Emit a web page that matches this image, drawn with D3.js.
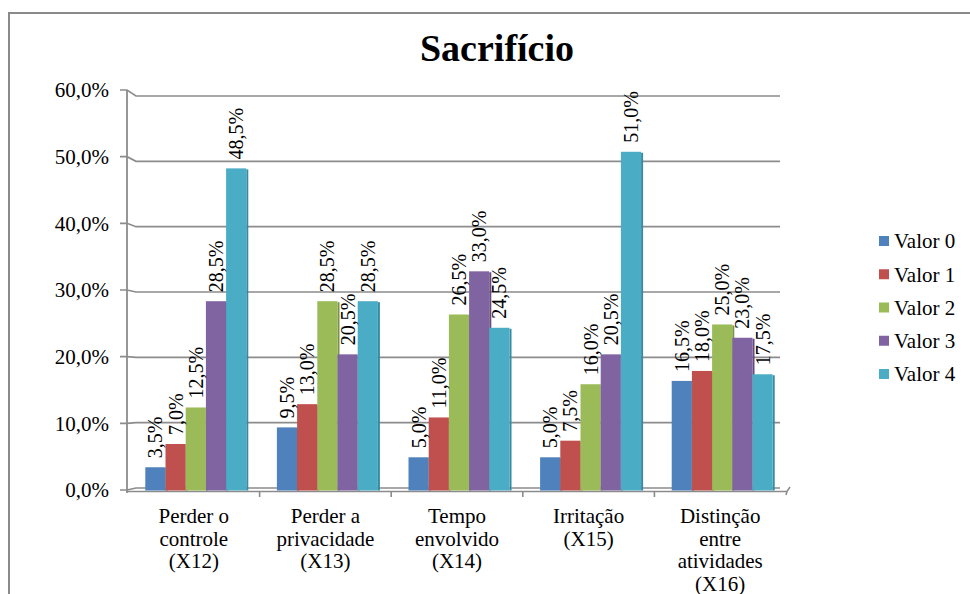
<!DOCTYPE html>
<html>
<head>
<meta charset="utf-8">
<script src="https://cdn.jsdelivr.net/npm/d3@7/dist/d3.min.js"></script>
<style>
  html, body { margin: 0; padding: 0; background: #fff; }
  svg { display: block; }
  svg text { font-family: "Liberation Serif", "DejaVu Serif"; }
</style>
</head>
<body>
<svg id="chart" width="970" height="594"></svg>
<script>
// Chart data
const categories = ["Perder o\ncontrole\n(X12)", "Perder a\nprivacidade\n(X13)", "Tempo\nenvolvido\n(X14)", "Irritação\n(X15)", "Distinção\nentre\natividades\n(X16)"];
const seriesNames = ["Valor 0", "Valor 1", "Valor 2", "Valor 3", "Valor 4"];
const valor0 = [3.5, 9.5, 5.0, 5.0, 16.5];
const valor1 = [7.0, 13.0, 11.0, 7.5, 18.0];
const valor2 = [12.5, 28.5, 26.5, 16.0, 25.0];
const valor3 = [28.5, 20.5, 33.0, 20.5, 23.0];
const valor4 = [48.5, 28.5, 24.5, 51.0, 17.5];
const yTicks = [0, 10, 20, 30, 40, 50, 60];
const seriesColors = ["#4F81BD", "#C0504D", "#9BBB59", "#8064A2", "#4BACC6"];
const sideColors = ["#3b6392", "#963b39", "#789346", "#62497f", "#368aa2"];

const seriesValues = [valor0, valor1, valor2, valor3, valor4];
const fmt = v => d3.format(".1f")(v).replace(".", ",") + "%";

const svg = d3.select("#chart");
const gridColor = "#8c8c8c";

// Outer chart frame (left and top edges visible)
svg.append("path")
  .attr("d", "M9,594 L9,13 L970,13")
  .attr("fill", "none").attr("stroke", "#8a8a8a").attr("stroke-width", 2);

// Title
svg.append("text")
  .attr("x", 497).attr("y", 61)
  .attr("text-anchor", "middle")
  .attr("font-weight", "bold").attr("font-size", 38)
  .attr("fill", "#000")
  .text("Sacrifício");

// Scales: front axis, back wall, bar faces
const x0 = d3.scaleBand().domain(categories).range([128, 786]).paddingInner(0).paddingOuter(0);
const groupPad = 15.3;
const x1 = d3.scaleBand().domain(seriesNames)
  .range([groupPad + 2, x0.bandwidth() - groupPad + 2]).padding(0);
const yFront = d3.scaleLinear().domain([0, 60]).range([490, 90]);
const yBack = d3.scaleLinear().domain([0, 60]).range([488, 96]);
const yBar = d3.scaleLinear().domain([0, 60]).range([490.5, 92]);
const backLeft = 136, backRight = 780, axisX = 127;

// Gridlines on back wall, joined to the front axis ticks
const grid = svg.append("g");
yTicks.forEach(t => {
  grid.append("path")
    .attr("d", `M${axisX - 7},${yFront(t)} L${axisX},${yFront(t)} L${backLeft},${yBack(t)} L${backRight},${yBack(t)}`)
    .attr("fill", "none").attr("stroke", gridColor).attr("stroke-width", 1.6);
});

// Floor front edge
svg.append("path")
  .attr("d", `M${axisX},${yFront(0) + 1.5} L${787},${yFront(0) + 1.5} L${790},${yFront(0) - 3} M${787},${yFront(0) + 1.5} L${786},${yFront(0) + 5}`)
  .attr("fill", "none").attr("stroke", gridColor).attr("stroke-width", 1.6);

// Category ticks on the floor edge
categories.slice(1).forEach(c => {
  svg.append("line")
    .attr("x1", x0(c)).attr("x2", x0(c))
    .attr("y1", yFront(0) + 1.5).attr("y2", yFront(0) + 7)
    .attr("stroke", gridColor).attr("stroke-width", 1.6);
});

// Vertical value axis
svg.append("line")
  .attr("x1", axisX).attr("x2", axisX)
  .attr("y1", yFront(60)).attr("y2", yFront(0) + 3)
  .attr("stroke", gridColor).attr("stroke-width", 1.8);

// Y tick labels
svg.append("g").selectAll("text").data(yTicks).join("text")
  .attr("x", 109).attr("y", d => yFront(d))
  .attr("dy", "0.35em")
  .attr("text-anchor", "end")
  .attr("font-size", 21).attr("fill", "#000")
  .text(d => d3.format(".1f")(d).replace(".", ",") + "%");

// Bars
const groups = svg.append("g").selectAll("g").data(categories).join("g")
  .attr("transform", c => `translate(${x0(c)},0)`);

seriesNames.forEach((s, si) => {
  const vals = seriesValues[si];
  groups.append("rect")
    .attr("x", x1(s) + x1.bandwidth())
    .attr("width", 2)
    .attr("y", (c, ci) => yBar(vals[ci]) + 1)
    .attr("height", (c, ci) => yBar(0) - yBar(vals[ci]) - 1)
    .attr("fill", sideColors[si]);
  groups.append("rect")
    .attr("x", x1(s))
    .attr("width", x1.bandwidth())
    .attr("y", (c, ci) => yBar(vals[ci]))
    .attr("height", (c, ci) => yBar(0) - yBar(vals[ci]))
    .attr("fill", seriesColors[si]);
});

// Value labels, rotated
seriesNames.forEach((s, si) => {
  const vals = seriesValues[si];
  groups.append("text")
    .attr("transform", (c, ci) => `translate(${x1(s) + x1.bandwidth() / 2 + 7},${yBar(vals[ci]) - 9}) rotate(-90)`)
    .attr("text-anchor", "start")
    .attr("font-size", 20).attr("fill", "#000")
    .text((c, ci) => fmt(vals[ci]));
});

// Category labels (multi-line)
const catLabels = svg.append("g").selectAll("text").data(categories).join("text")
  .attr("x", c => x0(c) + x0.bandwidth() / 2)
  .attr("y", 523)
  .attr("text-anchor", "middle")
  .attr("font-size", 21).attr("fill", "#000");
catLabels.each(function(c) {
  const t = d3.select(this);
  c.split("\n").forEach((line, i) => {
    t.append("tspan")
      .attr("x", x0(c) + x0.bandwidth() / 2)
      .attr("dy", i === 0 ? 0 : 22.5)
      .text(line);
  });
});

// Legend
const legendY = d3.scalePoint().domain(seriesNames).range([241, 374]);
const legend = svg.append("g").selectAll("g").data(seriesNames).join("g")
  .attr("transform", s => `translate(879,${legendY(s)})`);
legend.append("rect")
  .attr("x", 0).attr("y", -5).attr("width", 10).attr("height", 10)
  .attr("fill", (s, i) => seriesColors[i]);
legend.append("text")
  .attr("x", 15).attr("y", 0).attr("dy", "0.35em")
  .attr("font-size", 21).attr("fill", "#000")
  .text(s => s);
</script>
</body>
</html>
